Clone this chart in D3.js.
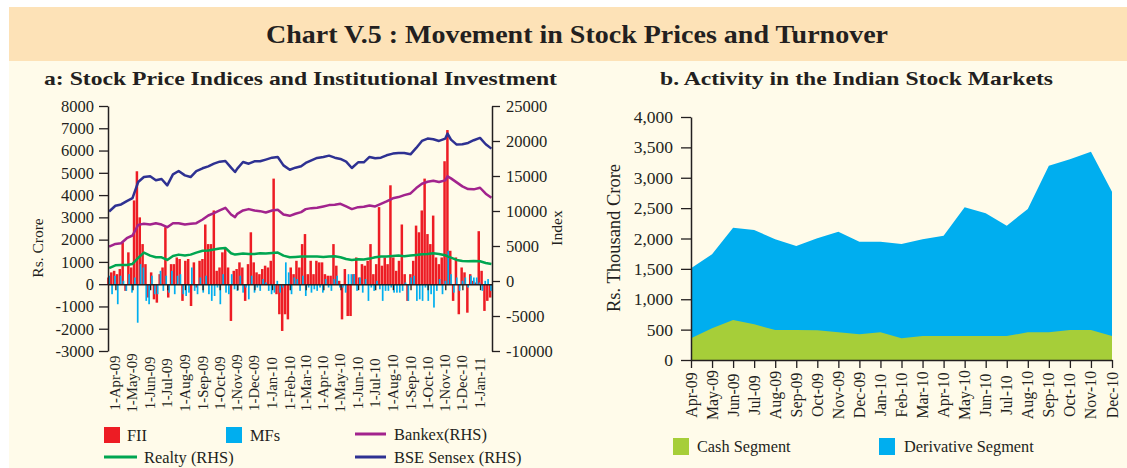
<!DOCTYPE html>
<html><head><meta charset="utf-8">
<script src="https://cdn.jsdelivr.net/npm/d3@7"></script>
<style>
html,body{margin:0;padding:0;background:#fff;}
svg text{font-family:'Liberation Serif','Times New Roman',serif;fill:#231f20;}
</style></head>
<body>
<svg id="c" width="1127" height="468"></svg>
<script>
// ---------- DATA ----------
const titleText = "Chart V.5 : Movement in Stock Prices and Turnover";
const subA = "a: Stock Price Indices and Institutional Investment";
const subB = "b. Activity in the Indian Stock Markets";

// Panel a: index lines (RHS)
const lineDates = ["2009-03-21","2009-04-01","2009-04-11","2009-04-21","2009-05-01","2009-05-11","2009-05-21","2009-06-01","2009-06-11","2009-06-21","2009-07-01","2009-07-11","2009-07-21","2009-08-01","2009-08-11","2009-08-21","2009-09-01","2009-09-11","2009-09-21","2009-10-01","2009-10-11","2009-10-21","2009-10-28","2009-11-01","2009-11-11","2009-11-21","2009-12-01","2009-12-11","2009-12-21","2010-01-01","2010-01-11","2010-01-21","2010-02-01","2010-02-11","2010-02-21","2010-03-01","2010-03-11","2010-03-21","2010-04-01","2010-04-11","2010-04-21","2010-05-01","2010-05-11","2010-05-21","2010-06-01","2010-06-11","2010-06-21","2010-07-01","2010-07-11","2010-07-21","2010-08-01","2010-08-11","2010-08-21","2010-09-01","2010-09-11","2010-09-21","2010-10-01","2010-10-11","2010-10-21","2010-11-01","2010-11-05","2010-11-11","2010-11-21","2010-12-01","2010-12-11","2010-12-21","2011-01-01","2011-01-11","2011-01-21"];
const sensex = [9930,10750,10940,11410,11840,14140,14850,14950,14380,14570,13660,15240,15710,15090,14850,15710,16100,16380,16760,17050,17150,16190,15570,16050,17000,16760,17100,17100,17340,17620,17720,16520,15900,16190,16380,16860,17240,17580,17720,17910,17620,17430,17050,16140,16950,16950,17720,17530,17620,17960,18200,18290,18290,18100,19010,20010,20350,20250,20010,20350,21060,20200,19490,19530,19720,20110,20440,19530,18910];
const bankex = [4920,5300,5400,6110,6500,8020,8170,8070,8260,8070,7690,8260,8260,8070,8170,8260,8790,9360,9700,10080,10460,9500,9120,9600,10080,10270,10080,9980,9790,10080,10170,9500,9310,9600,9840,10270,10410,10460,10650,10840,10890,11030,10650,10270,10550,10600,10790,10650,11030,11370,11820,11990,12270,12510,13280,13900,14180,14330,14140,14380,14950,14660,14090,13520,13130,13090,13320,12470,11890];
const realty = [1840,2240,2290,2290,2440,3300,4060,3630,3390,3390,3010,3580,3770,3630,3770,4060,4320,4350,4490,4630,4730,3960,3770,3820,3920,3870,3870,3960,3920,4010,4060,3630,3390,3440,3490,3490,3490,3490,3440,3490,3530,3390,3150,3010,3100,3060,3200,3390,3490,3490,3560,3630,3530,3630,3730,3820,3870,3960,3870,3680,3530,3340,3010,2870,2820,2870,2820,2580,2440];

// Panel a: institutional flows (Rs. crore), one value per 5-day period starting 20-Mar-2009
const flowStart = "2009-03-20";
const flowStepDays = 5;
const fii = [300,530,600,450,680,1880,-300,1430,750,3760,5070,3000,1800,900,-600,530,-680,-830,450,750,2560,-600,900,900,1200,1130,-750,1050,1130,-980,980,-150,1050,1130,
2680,1800,1800,3310,600,750,1430,1580,750,-1650,600,680,980,750,-750,900,2330,980,530,450,680,830,750,1050,4740,-450,-1350,-2100,-1350,-1580,750,450,1050,750,
1800,2250,450,1050,450,1050,980,980,450,380,380,1800,830,150,-1580,680,-1430,-1430,450,1200,300,900,830,1050,1800,450,900,3460,830,1200,900,4440,1200,
600,1050,2680,450,-750,450,1050,2630,2330,3310,4740,2250,1800,3080,1200,900,1200,5520,6920,1500,-750,1200,-1350,750,530,-1280,450,150,75,2380,600,-1200,-750,-600];
const mfs = [380,-450,380,-900,380,150,-300,450,-380,300,-1730,900,750,-750,-900,380,-450,-450,600,-300,380,-380,600,-450,380,450,-450,-530,-380,750,-300,-450,300,-380,
380,-450,-750,-530,-150,-900,450,-380,-450,450,-230,-300,380,-380,-150,-680,380,-380,-150,-300,230,80,-300,-450,-380,150,-380,-150,980,530,-450,300,230,-300,
380,-530,-150,-380,-230,-300,-150,-380,230,-150,-300,230,380,-150,-150,-380,450,450,450,-300,300,-380,230,-750,-150,-300,150,-230,-750,-300,-300,-150,-380,
-380,-380,-300,75,-750,300,380,-750,-680,-750,-150,-750,-450,-1050,-300,230,-450,150,1500,450,-380,300,-300,150,300,-150,380,300,300,75,-300,150,230,-300];

const leftTicks = [-3000,-2000,-1000,0,1000,2000,3000,4000,5000,6000,7000,8000];
const rightTicks = [-10000,-5000,0,5000,10000,15000,20000,25000];
const monthTicksA = ["2009-04-01","2009-05-01","2009-06-01","2009-07-01","2009-08-01","2009-09-01","2009-10-01","2009-11-01","2009-12-01","2010-01-01","2010-02-01","2010-03-01","2010-04-01","2010-05-01","2010-06-01","2010-07-01","2010-08-01","2010-09-01","2010-10-01","2010-11-01","2010-12-01","2011-01-01"];

// Panel b: turnover (Rs. thousand crore)
const months = ["Apr-09","May-09","Jun-09","Jul-09","Aug-09","Sep-09","Oct-09","Nov-09","Dec-09","Jan-10","Feb-10","Mar-10","Apr-10","May-10","Jun-10","Jul-10","Aug-10","Sep-10","Oct-10","Nov-10","Dec-10"];
const cashSeg = [357,522,658,587,494,494,491,456,423,456,357,395,395,395,395,395,456,456,494,494,395];
const derivSeg = [1509,1740,2178,2140,1987,1877,2003,2112,1948,1948,1910,1987,2046,2513,2414,2211,2486,3198,3303,3429,2771];
const turnoverTicks = [0,500,1000,1500,2000,2500,3000,3500,4000];

// ---------- COLOURS ----------
const C = {band:"#fde2b7", cream:"#fffbea", ink:"#231f20", fii:"#ed1c24", mf:"#00aeef",
  bankex:"#a2238d", realty:"#00a651", sensex:"#2e3192", cash:"#a6ce39", deriv:"#00aeef"};

const svg = d3.select("#c");
const P = d3.timeParse("%Y-%m-%d");
const plainNum = d => String(d);

// background
svg.append("rect").attr("x",9).attr("y",7).attr("width",1118).attr("height",54).attr("fill",C.band);
svg.append("rect").attr("x",9).attr("y",61).attr("width",1118).attr("height",407).attr("fill",C.cream);

svg.append("text").attr("x",577).attr("y",43).attr("text-anchor","middle")
  .attr("font-size",26).attr("font-weight","bold").attr("textLength",622).attr("lengthAdjust","spacingAndGlyphs").text(titleText);
svg.append("text").attr("x",300.5).attr("y",85).attr("text-anchor","middle")
  .attr("font-size",19.5).attr("font-weight","bold").attr("textLength",513).attr("lengthAdjust","spacingAndGlyphs").text(subA);
svg.append("text").attr("x",856.5).attr("y",85).attr("text-anchor","middle")
  .attr("font-size",19.5).attr("font-weight","bold").attr("textLength",393).attr("lengthAdjust","spacingAndGlyphs").text(subB);

// ---------- PANEL A ----------
const x = d3.scaleTime().domain([P("2009-03-19"), P("2011-01-22")]).range([108, 492]);
const yL = d3.scaleLinear().domain([-3000, 8000]).range([351, 106]);
const yR = d3.scaleLinear().domain([-10000, 25000]).range([351, 106]);

const flowDates = fii.map((_, i) => d3.timeDay.offset(P(flowStart), i * flowStepDays));
const gA = svg.append("g");
gA.selectAll("rect.fii").data(fii).join("rect").attr("class","fii")
  .attr("x",(d,i)=>x(flowDates[i]) - 1.4).attr("width",2.5)
  .attr("y",d=>Math.min(yL(d), yL(0))).attr("height",d=>Math.abs(yL(d)-yL(0))).attr("fill",C.fii);
gA.selectAll("rect.mf").data(mfs).join("rect").attr("class","mf")
  .attr("x",(d,i)=>x(flowDates[i]) - 0.2).attr("width",1.7)
  .attr("y",d=>Math.min(yL(d), yL(0))).attr("height",d=>Math.abs(yL(d)-yL(0))).attr("fill",C.mf);

const ld = lineDates.map(P);
const mkLine = d3.line().x((d,i)=>x(ld[i])).y(d=>yR(d));
[[realty,C.realty],[bankex,C.bankex],[sensex,C.sensex]].forEach(([arr,col])=>{
  gA.append("path").attr("d",mkLine(arr)).attr("fill","none").attr("stroke",col)
    .attr("stroke-width",2.5).attr("stroke-linejoin","round");
});

// zero axis with month ticks
const xAxis = d3.axisBottom(x).tickValues(monthTicksA.map(P)).tickSize(6).tickSizeOuter(0).tickFormat("");
const gx = gA.append("g").attr("transform",`translate(0,${yL(0)})`).call(xAxis);
gx.select(".domain").attr("stroke",C.ink).attr("stroke-width",1.5);
gx.selectAll(".tick line").attr("stroke",C.ink).attr("stroke-width",1.3);
const fmtA = d3.timeFormat("%-d-%b-%y");
gA.selectAll("text.xl").data(monthTicksA).join("text").attr("class","xl")
  .attr("transform",d=>`translate(${x(P(d))+5},383) rotate(-90)`).attr("text-anchor","middle")
  .attr("font-size",14.8).text(d=>fmtA(P(d)));

const axL = d3.axisLeft(yL).tickValues(leftTicks).tickSize(9).tickPadding(5).tickSizeOuter(0).tickFormat(plainNum);
const gL = gA.append("g").attr("transform","translate(108,0)").call(axL);
const axR = d3.axisRight(yR).tickValues(rightTicks).tickSize(8).tickPadding(6).tickSizeOuter(0).tickFormat(plainNum);
const gR = gA.append("g").attr("transform","translate(492,0)").call(axR);
[gL,gR].forEach(g=>{
  g.select(".domain").attr("stroke",C.ink).attr("stroke-width",1.5);
  g.selectAll(".tick line").attr("stroke",C.ink).attr("stroke-width",1.3);
  g.selectAll(".tick text").attr("font-size",16.5).attr("fill",C.ink).attr("font-family","'Liberation Serif','Times New Roman',serif");
});
gA.append("text").attr("transform","translate(43,248) rotate(-90)").attr("text-anchor","middle").attr("font-size",15.5).text("Rs. Crore");
gA.append("text").attr("transform","translate(562,228) rotate(-90)").attr("text-anchor","middle").attr("font-size",15.5).text("Index");

// legend a
const legA = gA.append("g");
legA.append("rect").attr("x",104).attr("y",427).attr("width",16).attr("height",16).attr("fill",C.fii);
legA.append("text").attr("x",127).attr("y",441).attr("font-size",16.4).text("FII");
legA.append("rect").attr("x",226).attr("y",427).attr("width",16).attr("height",16).attr("fill",C.mf);
legA.append("text").attr("x",250).attr("y",441).attr("font-size",16.4).text("MFs");
legA.append("line").attr("x1",355).attr("x2",386).attr("y1",434).attr("y2",434).attr("stroke",C.bankex).attr("stroke-width",3);
legA.append("text").attr("x",394).attr("y",440).attr("font-size",16.4).text("Bankex(RHS)");
legA.append("line").attr("x1",104).attr("x2",137).attr("y1",457).attr("y2",457).attr("stroke",C.realty).attr("stroke-width",3);
legA.append("text").attr("x",144).attr("y",463).attr("font-size",16.4).text("Realty (RHS)");
legA.append("line").attr("x1",355).attr("x2",386).attr("y1",457).attr("y2",457).attr("stroke",C.sensex).attr("stroke-width",3);
legA.append("text").attr("x",394).attr("y",463).attr("font-size",16.4).text("BSE Sensex (RHS)");

// ---------- PANEL B ----------
const xm = d3.scalePoint().domain(months).range([691, 1112]);
const yM = d3.scaleLinear().domain([0, 4000]).range([360, 117]);
const gB = svg.append("g");
const area = d3.area().x((d,i)=>xm(months[i])).y0(yM(0)).y1(d=>yM(d));
gB.append("path").attr("d",area(derivSeg)).attr("fill",C.deriv);
gB.append("path").attr("d",area(cashSeg)).attr("fill",C.cash);

const axM = d3.axisLeft(yM).tickValues(turnoverTicks).tickSize(10).tickPadding(8).tickSizeOuter(0).tickFormat(d3.format(","));
const gM = gB.append("g").attr("transform","translate(691,0)").call(axM);
const axMx = d3.axisBottom(xm).tickSize(8).tickSizeOuter(0).tickFormat("");
const gMx = gB.append("g").attr("transform","translate(0,360)").call(axMx);
[gM,gMx].forEach(g=>{
  g.select(".domain").attr("stroke",C.ink).attr("stroke-width",1.5);
  g.selectAll(".tick line").attr("stroke",C.ink).attr("stroke-width",1.3);
  g.selectAll(".tick text").attr("font-size",17.5).attr("fill",C.ink).attr("font-family","'Liberation Serif','Times New Roman',serif");
});
gB.selectAll("text.ml").data(months).join("text").attr("class","ml")
  .attr("transform",d=>`translate(${xm(d)+5.5},395) rotate(-90)`).attr("text-anchor","middle")
  .attr("font-size",15.8).text(d=>d);
gB.append("text").attr("transform","translate(620,238) rotate(-90)").attr("text-anchor","middle").attr("font-size",18.5).text("Rs. Thousand Crore");

const legB = gB.append("g");
legB.append("rect").attr("x",673).attr("y",438).attr("width",16).attr("height",17).attr("fill",C.cash);
legB.append("text").attr("x",697).attr("y",452).attr("font-size",16.3).text("Cash Segment");
legB.append("rect").attr("x",879).attr("y",438).attr("width",16).attr("height",17).attr("fill",C.deriv);
legB.append("text").attr("x",904).attr("y",452).attr("font-size",16.3).text("Derivative Segment");
</script>
</body></html>
